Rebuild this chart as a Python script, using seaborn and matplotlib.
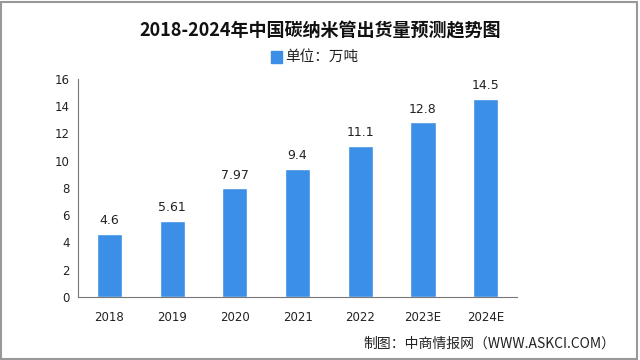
import numpy as np
import pandas as pd
import seaborn as sns
import matplotlib.pyplot as plt
from matplotlib.patches import Rectangle

years = ["2018", "2019", "2020", "2021", "2022", "2023E", "2024E"]
shipments = [4.6, 5.61, 7.97, 9.4, 11.1, 12.8, 14.5]
value_labels = ["4.6", "5.61", "7.97", "9.4", "11.1", "12.8", "14.5"]

sns.set_style("white")
plt.rcParams['font.family'] = ['Noto Sans CJK SC', 'DejaVu Sans']

bar_color = "#3b8fe6"
data = pd.DataFrame({"year": years, "value": shipments})

fig = plt.figure(figsize=(6.4, 3.6), dpi=100)
ax = fig.add_axes([0.122, 0.175, 0.686, 0.606])

sns.barplot(data=data, x="year", y="value", color=bar_color, width=0.4,
            saturation=1, ax=ax)

# 数值标签
for i, (v, lab) in enumerate(zip(shipments, value_labels)):
    ax.text(i, v + 0.5, lab, ha="center", va="bottom", fontsize=9,
            color="#222222", family="DejaVu Sans")

ax.set_xlim(-0.5, 6.5)
ax.set_ylim(0, 16)
ax.set_yticks(range(0, 17, 2))
ax.set_xlabel("")
ax.set_ylabel("")
for s in ["top", "right"]:
    ax.spines[s].set_visible(False)
for s in ["left", "bottom"]:
    ax.spines[s].set_color("#777777")
    ax.spines[s].set_linewidth(0.8)
ax.set_xticks(np.arange(-0.5, 7, 1), minor=True)
ax.tick_params(axis="x", which="major", length=0, labelsize=8.5, pad=10, colors="#222222")
ax.tick_params(axis="x", which="minor", length=4, direction="out", color="#777777")
ax.tick_params(axis="y", length=5, direction="inout", labelsize=8.5, color="#777777", colors="#222222")
for t in ax.get_xticklabels() + ax.get_yticklabels():
    t.set_family("DejaVu Sans")

fig.text(0.5, 0.915, "2018-2024年中国碳纳米管出货量预测趋势图", ha="center", va="center",
         fontsize=13, fontweight="bold", color="#111111")
fig.patches.append(Rectangle((0.423, 0.825), 0.018, 0.032, transform=fig.transFigure,
                             color=bar_color, figure=fig))
fig.text(0.446, 0.842, "单位：万吨", ha="left", va="center", fontsize=10.5, color="#222222")
fig.text(0.962, 0.045, "制图：中商情报网（WWW.ASKCI.COM）", ha="right", va="center",
         fontsize=10, color="#222222")

fig.patches.append(Rectangle((0.002, 0.004), 0.994, 0.99, transform=fig.transFigure,
                             fill=False, edgecolor="#999999", linewidth=1.5, figure=fig))

fig.savefig("out.png", dpi=100)
